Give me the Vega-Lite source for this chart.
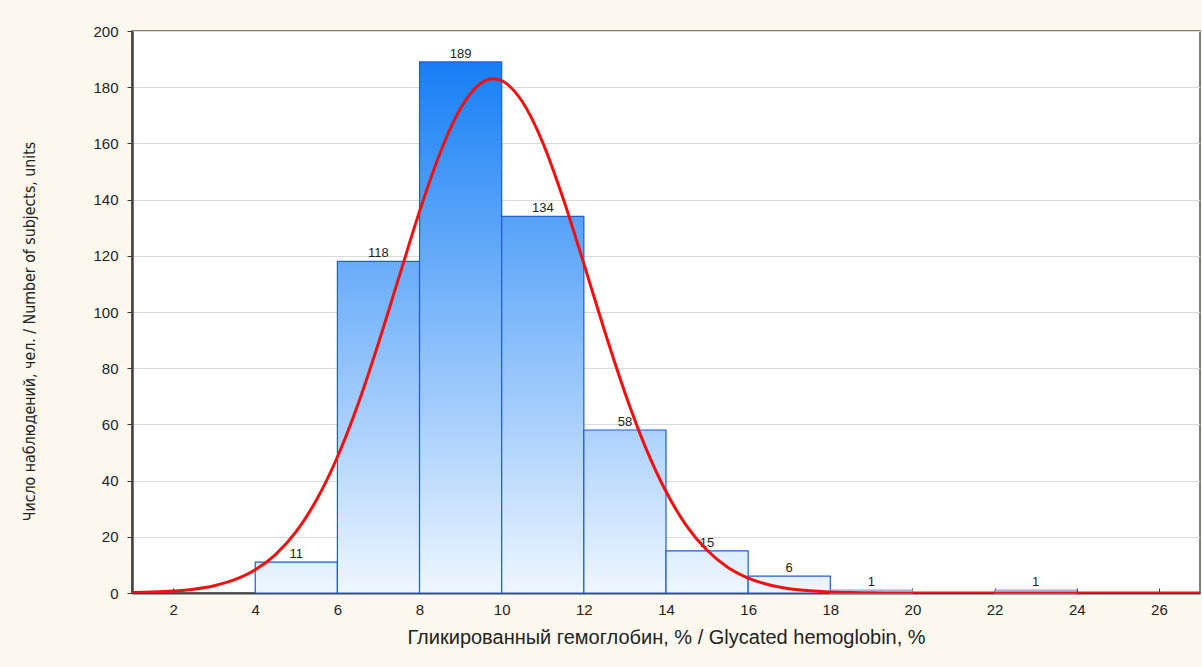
{
  "$schema": "https://vega.github.io/schema/vega-lite/v6.json",
  "width": 1068,
  "height": 562,
  "autosize": "none",
  "padding": {"left": 132, "top": 31, "right": 2, "bottom": 74},
  "background": "#fdf8ed",
  "config": {
    "view": {"fill": "white", "stroke": "#555555", "strokeWidth": 1.5},
    "axis": {"labelFont": "Liberation Sans", "titleFont": "Liberation Sans", "labelColor": "#222222", "titleColor": "#222222", "domainColor": "#444444", "tickColor": "#333333"}
  },
  "datasets": {
    "bins": [
      {"lo": 4, "hi": 6, "count": 11},
      {"lo": 6, "hi": 8, "count": 118},
      {"lo": 8, "hi": 10, "count": 189},
      {"lo": 10, "hi": 12, "count": 134},
      {"lo": 12, "hi": 14, "count": 58},
      {"lo": 14, "hi": 16, "count": 15},
      {"lo": 16, "hi": 18, "count": 6},
      {"lo": 18, "hi": 20, "count": 1},
      {"lo": 22, "hi": 24, "count": 1}
    ],
    "curve": [
      {"x": 1, "y": 0.15}, {"x": 1.5, "y": 0.32}, {"x": 2, "y": 0.67}, {"x": 2.5, "y": 1.35},
      {"x": 3, "y": 2.59}, {"x": 3.5, "y": 4.73}, {"x": 4, "y": 8.26}, {"x": 4.5, "y": 13.77},
      {"x": 5, "y": 21.92}, {"x": 5.5, "y": 33.34}, {"x": 6, "y": 48.4}, {"x": 6.5, "y": 67.1},
      {"x": 7, "y": 88.9}, {"x": 7.5, "y": 112.4}, {"x": 8, "y": 135.8}, {"x": 8.5, "y": 156.6},
      {"x": 9, "y": 172.5}, {"x": 9.5, "y": 181.5}, {"x": 9.8, "y": 183}, {"x": 10, "y": 182.3},
      {"x": 10.5, "y": 174.9}, {"x": 11, "y": 160.3}, {"x": 11.5, "y": 140.2}, {"x": 12, "y": 117.2},
      {"x": 12.5, "y": 93.5}, {"x": 13, "y": 71.3}, {"x": 13.5, "y": 51.9}, {"x": 14, "y": 36.1},
      {"x": 14.5, "y": 23.9}, {"x": 15, "y": 15.2}, {"x": 15.5, "y": 9.18}, {"x": 16, "y": 5.31},
      {"x": 16.5, "y": 2.93}, {"x": 17, "y": 1.54}, {"x": 17.5, "y": 0.78}, {"x": 18, "y": 0.37},
      {"x": 18.5, "y": 0.17}, {"x": 19, "y": 0.07}, {"x": 20, "y": 0.01}, {"x": 21, "y": 0},
      {"x": 22, "y": 0}, {"x": 24, "y": 0}, {"x": 26, "y": 0}, {"x": 27, "y": 0}
    ]
  },
  "layer": [
    {
      "data": {"name": "bins"},
      "mark": {"type": "bar", "stroke": "#1f5bd6", "strokeWidth": 1.2},
      "encoding": {
        "x": {
          "field": "lo", "type": "quantitative",
          "scale": {"domain": [1, 27], "nice": false, "zero": false},
          "axis": {
            "values": [2, 4, 6, 8, 10, 12, 14, 16, 18, 20, 22, 24, 26],
            "title": "Гликированный гемоглобин, % / Glycated hemoglobin, %",
            "titleFontSize": 20, "titleFontWeight": "normal", "titlePadding": 10,
            "labelFontSize": 15, "labelPadding": 14, "tickSize": -5, "domainWidth": 2, "grid": false
          }
        },
        "x2": {"field": "hi"},
        "y": {
          "field": "count", "type": "quantitative",
          "scale": {"domain": [0, 200], "nice": false},
          "axis": {
            "values": [0, 20, 40, 60, 80, 100, 120, 140, 160, 180, 200],
            "title": "Число наблюдений, чел. / Number of subjects, units",
            "titleFont": "DejaVu Sans Condensed, Liberation Sans", "titleFontSize": 15.8, "titleFontWeight": "normal", "titlePadding": 55, "titleY": 300,
            "labelFontSize": 15, "labelPadding": 9, "tickSize": 5, "domainWidth": 2.5,
            "grid": true, "gridColor": "#d9d9d9", "gridWidth": 1
          }
        },
        "y2": {"datum": 0},
        "fill": {
          "condition": [
            {"test": "datum.count == 189", "value": {"gradient": "linear", "x1": 0, "y1": -0.0582, "x2": 0, "y2": 1, "stops": [{"offset": 0, "color": "#0a78f5"}, {"offset": 1, "color": "#eef6ff"}]}},
            {"test": "datum.count == 134", "value": {"gradient": "linear", "x1": 0, "y1": -0.4925, "x2": 0, "y2": 1, "stops": [{"offset": 0, "color": "#0a78f5"}, {"offset": 1, "color": "#eef6ff"}]}},
            {"test": "datum.count == 118", "value": {"gradient": "linear", "x1": 0, "y1": -0.6949, "x2": 0, "y2": 1, "stops": [{"offset": 0, "color": "#0a78f5"}, {"offset": 1, "color": "#eef6ff"}]}},
            {"test": "datum.count == 58", "value": {"gradient": "linear", "x1": 0, "y1": -2.448, "x2": 0, "y2": 1, "stops": [{"offset": 0, "color": "#0a78f5"}, {"offset": 1, "color": "#eef6ff"}]}},
            {"test": "datum.count == 15", "value": {"gradient": "linear", "x1": 0, "y1": -12.33, "x2": 0, "y2": 1, "stops": [{"offset": 0, "color": "#0a78f5"}, {"offset": 1, "color": "#eef6ff"}]}},
            {"test": "datum.count == 11", "value": {"gradient": "linear", "x1": 0, "y1": -17.18, "x2": 0, "y2": 1, "stops": [{"offset": 0, "color": "#0a78f5"}, {"offset": 1, "color": "#eef6ff"}]}},
            {"test": "datum.count == 6", "value": {"gradient": "linear", "x1": 0, "y1": -32.33, "x2": 0, "y2": 1, "stops": [{"offset": 0, "color": "#0a78f5"}, {"offset": 1, "color": "#eef6ff"}]}}
          ],
          "value": "#e8f1fd"
        },
        "stroke": {
          "condition": {"test": "datum.count == 1", "value": "#9a9ad6"},
          "value": "#1f5bd6"
        }
      }
    },
    {
      "data": {"name": "bins"},
      "transform": [{"calculate": "(datum.lo + datum.hi) / 2", "as": "mid"}],
      "mark": {"type": "text", "font": "Liberation Sans", "fontSize": 13, "color": "#222222", "baseline": "bottom", "dy": -1},
      "encoding": {
        "x": {"field": "mid", "type": "quantitative"},
        "y": {"field": "count", "type": "quantitative"},
        "text": {"field": "count", "type": "quantitative"}
      }
    },
    {
      "data": {"name": "curve"},
      "mark": {"type": "line", "color": "#f01010", "strokeWidth": 3, "interpolate": "monotone", "clip": true},
      "encoding": {
        "x": {"field": "x", "type": "quantitative"},
        "y": {"field": "y", "type": "quantitative"}
      }
    }
  ]
}
